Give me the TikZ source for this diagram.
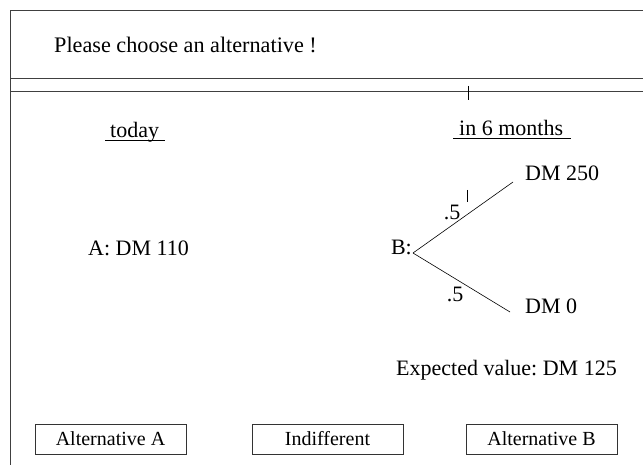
\documentclass[tikz,border=0pt]{standalone}
\usepackage{fontspec}
\setmainfont{Liberation Serif}
\frenchspacing
\begin{document}
\begin{tikzpicture}[x=1pt,y=-1pt,
  frameline/.style={line width=0.7pt,black!75},
  txt/.style={inner sep=0pt,font=\fontsize{22}{26}\selectfont},
  ul/.style={line width=0.8pt},
  btn/.style={draw,line width=0.6pt,black!80,text=black,minimum width=151pt,minimum height=30pt,inner sep=0pt,font=\fontsize{20}{24}\selectfont},
  branch/.style={line width=0.6pt}]
\useasboundingbox (0,0) rectangle (643,465);
% frame
\draw[frameline] (643,10) -- (10,10) -- (10,465);
\draw[frameline] (10,78) -- (643,78);
\draw[frameline] (10,91) -- (643,91);
\draw[line width=0.5pt] (468,86) -- (468,100);
% title
\node[txt,anchor=west,font=\fontsize{22.2}{26}\selectfont] (title) at (54,45) {Please choose an alternative !};
% column heads
\node[txt,anchor=base west] (today) at (110,138) {today};
\draw[ul] ([shift={(-5,2)}]today.base west) -- ([shift={(6,2)}]today.base east);
\node[txt,anchor=base west] (months) at (459,136) {in 6 months};
\draw[ul] ([shift={(-6,2)}]months.base west) -- ([shift={(8,2)}]months.base east);
% A
\node[txt,anchor=west] (A) at (88,248) {A: DM 110};
% B tree
\node[txt,anchor=east] (B) at (412,247) {B:};
\coordinate (apex) at (413,253);
\coordinate (up) at (513,182);
\coordinate (lo) at (510,312);
\draw[branch] (apex) -- (up);
\draw[branch] (apex) -- (lo);
\node[txt,anchor=west] (dm250) at (525,173) {DM 250};
\node[txt,anchor=west] (dm0) at (525,306) {DM 0};
\node[txt] (pu) at (452,212) {.5};
\node[txt] (pl) at (455,294) {.5};
\draw[line width=0.4pt] (467,190) -- (467,202);
\node[txt,anchor=west] (ev) at (396,370) {Expected value: DM 125};
% buttons
\node[btn] (bA) at (110.5,439) {Alternative A};
\node[btn] (bI) at (327.5,439) {Indifferent};
\node[btn] (bB) at (541.5,439) {Alternative B};
\end{tikzpicture}
\end{document}
